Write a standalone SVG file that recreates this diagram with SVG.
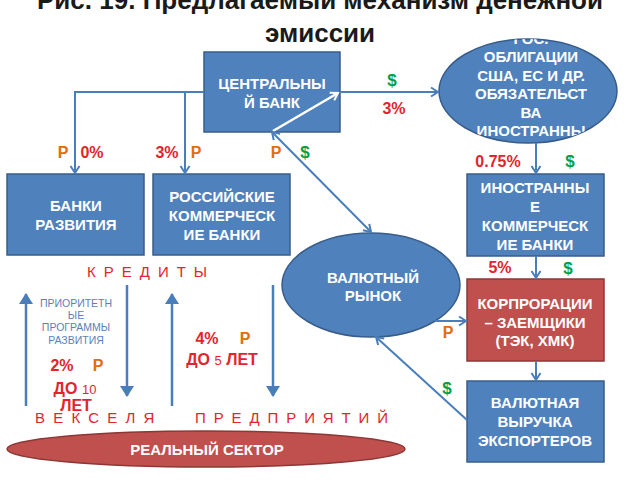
<svg xmlns="http://www.w3.org/2000/svg" width="640" height="480" viewBox="0 0 640 480">
<defs>
<marker id="ah" markerWidth="12" markerHeight="12" refX="9" refY="6" orient="auto-start-reverse" markerUnits="userSpaceOnUse">
<path d="M2,1.5 L9,6 L2,10.5" fill="none" stroke="#4a7ebb" stroke-width="2"/>
</marker>
<marker id="ahw" markerWidth="12" markerHeight="12" refX="9" refY="6" orient="auto" markerUnits="userSpaceOnUse">
<path d="M2,1.5 L9,6 L2,10.5" fill="none" stroke="#ffffff" stroke-width="2"/>
</marker>
<marker id="big" markerWidth="22" markerHeight="14" refX="10" refY="7" orient="auto" markerUnits="userSpaceOnUse">
<path d="M0,0 L11,7 L0,14 Z" fill="#4a7ebb"/>
</marker>
<clipPath id="bondclip">
<ellipse cx="528" cy="91" rx="89" ry="52"/>
</clipPath>
</defs>
<style>
text{font-family:"Liberation Sans",Arial,sans-serif;}
.box{fill:#4f81bd;stroke:#385d8a;stroke-width:1.5;}
.rbox{fill:#c0504d;stroke:#8c3836;stroke-width:1.5;}
.bt{fill:#ffffff;font-weight:bold;font-size:15px;text-anchor:middle;}
.ln{fill:none;stroke:#4a7ebb;stroke-width:2;}
.thick{fill:none;stroke:#4a7ebb;stroke-width:2.5;}
.red{fill:#e3242b;font-weight:bold;font-size:16px;text-anchor:middle;}
.or{fill:#e46c0a;font-weight:bold;font-size:16px;text-anchor:middle;}
.gr{fill:#00a04a;font-weight:bold;font-size:17px;text-anchor:middle;}
.sp{fill:#e3242b;font-size:15px;}
.pr{fill:#5a7fbd;font-size:10.5px;text-anchor:middle;}
</style>
<rect width="640" height="480" fill="#ffffff"/>

<g id="title">
<text x="320" y="9" font-size="26" font-weight="bold" text-anchor="middle" fill="#1a1a1a" textLength="566" lengthAdjust="spacingAndGlyphs">Рис. 19. Предлагаемый механизм денежной</text>
<text x="320" y="42" font-size="26" font-weight="bold" text-anchor="middle" fill="#1a1a1a">эмиссии</text>
</g>

<g id="central-bank">
<rect class="box" x="204" y="52" width="136" height="80"/>
<text class="bt" x="272" y="88.5">ЦЕНТРАЛЬНЫ</text>
<text class="bt" x="272" y="107.5">Й БАНК</text>
</g>

<g id="bonds">
<ellipse cx="528" cy="91" rx="89" ry="52" fill="#4f81bd" stroke="#385d8a" stroke-width="1.5"/>
<g clip-path="url(#bondclip)">
<text class="bt" x="531" y="43.5">ГОС.</text>
<text class="bt" x="531" y="61.5">ОБЛИГАЦИИ</text>
<text class="bt" x="531" y="80.5">США, ЕС И ДР.</text>
<text class="bt" x="531" y="98.5">ОБЯЗАТЕЛЬСТ</text>
<text class="bt" x="531" y="117.5">ВА</text>
<text class="bt" x="531" y="135.5">ИНОСТРАННЫ</text>
<text class="bt" x="531" y="153">Х ЭМИТЕНТОВ</text>
</g>
</g>

<g id="dev-banks">
<rect class="box" x="7" y="174" width="137" height="81"/>
<text class="bt" x="76" y="210.5">БАНКИ</text>
<text class="bt" x="76" y="229.5">РАЗВИТИЯ</text>
</g>

<g id="rus-banks">
<rect class="box" x="153" y="174" width="137" height="81"/>
<text class="bt" x="222" y="201.5">РОССИЙСКИЕ</text>
<text class="bt" x="222" y="220.5">КОММЕРЧЕСК</text>
<text class="bt" x="222" y="239.5">ИЕ БАНКИ</text>
</g>

<g id="foreign-banks">
<rect class="box" x="467" y="174" width="137" height="82"/>
<text class="bt" x="535" y="192.5">ИНОСТРАННЫ</text>
<text class="bt" x="535" y="211.5">Е</text>
<text class="bt" x="535" y="230.5">КОММЕРЧЕСК</text>
<text class="bt" x="535" y="249.5">ИЕ БАНКИ</text>
</g>

<g id="fx-market">
<ellipse cx="371" cy="285" rx="89" ry="52" fill="#4f81bd" stroke="#385d8a" stroke-width="1.5"/>
<text class="bt" x="373" y="282.5">ВАЛЮТНЫЙ</text>
<text class="bt" x="373" y="300.5">РЫНОК</text>
</g>

<g id="corporations">
<rect class="rbox" x="467" y="279" width="137" height="82"/>
<text class="bt" x="535" y="308.5">КОРПРОРАЦИИ</text>
<text class="bt" x="535" y="327.5">– ЗАЕМЩИКИ</text>
<text class="bt" x="535" y="345.5">(ТЭК, ХМК)</text>
</g>

<g id="exporters">
<rect class="box" x="467" y="381" width="137" height="81"/>
<text class="bt" x="535" y="407.5">ВАЛЮТНАЯ</text>
<text class="bt" x="535" y="426.5">ВЫРУЧКА</text>
<text class="bt" x="535" y="445.5">ЭКСПОРТЕРОВ</text>
</g>

<g id="real-sector">
<ellipse cx="206" cy="449" rx="199" ry="18" fill="#c0504d" stroke="#8c3836" stroke-width="1.5"/>
<text class="bt" x="207" y="454.5">РЕАЛЬНЫЙ СЕКТОР</text>
</g>

<g id="connectors">
<path class="ln" d="M204,92 H75 V173" marker-end="url(#ah)"/>
<path class="ln" d="M185,92 V173" marker-end="url(#ah)"/>
<path class="ln" d="M340,92 H438" marker-end="url(#ah)"/>
<path d="M273,131 L338,93" fill="none" stroke="#ffffff" stroke-width="2.5" marker-end="url(#ahw)"/>
<path class="ln" d="M272,132 L371,232" marker-start="url(#ah)" marker-end="url(#ah)"/>
<path class="ln" d="M536,143 V173" marker-end="url(#ah)"/>
<path class="ln" d="M536,256 V278" marker-end="url(#ah)"/>
<path class="ln" d="M536,361 V380" marker-end="url(#ah)"/>
<path class="ln" d="M435,321 H466" marker-end="url(#ah)"/>
<path class="ln" d="M467,420 L376,337" marker-end="url(#ah)"/>
<path class="thick" d="M26,406 V294" marker-end="url(#big)"/>
<path class="thick" d="M172,406 V294" marker-end="url(#big)"/>
<path class="thick" d="M127,285 V396" marker-end="url(#big)"/>
<path class="thick" d="M273,285 V396" marker-end="url(#big)"/>
</g>

<g id="labels">
<text class="or" x="63" y="158">Р</text>
<text class="red" x="92" y="158">0%</text>
<text class="red" x="167" y="158">3%</text>
<text class="or" x="196" y="158">Р</text>
<text class="or" x="276" y="158">Р</text>
<text class="gr" x="305" y="158">$</text>
<text class="gr" x="392" y="86">$</text>
<text class="red" x="394" y="114">3%</text>
<text class="red" x="498" y="167">0.75%</text>
<text class="gr" x="570" y="167">$</text>
<text class="red" x="500" y="273">5%</text>
<text class="gr" x="568" y="274">$</text>
<text class="or" x="448" y="338">Р</text>
<text class="gr" x="447" y="394">$</text>

<text class="sp" x="87" y="277" letter-spacing="8">КРЕДИТЫ</text>
<text class="sp" x="35" y="423" letter-spacing="8.2">ВЕКСЕЛЯ</text>
<text class="sp" x="195" y="423" letter-spacing="7.9">ПРЕДПРИЯТИЙ</text>

<text class="pr" x="76" y="307">ПРИОРИТЕТН</text>
<text class="pr" x="76" y="319">ЫЕ</text>
<text class="pr" x="76" y="331">ПРОГРАММЫ</text>
<text class="pr" x="76" y="344">РАЗВИТИЯ</text>

<text class="red" x="62" y="371">2%</text>
<text class="or" x="98" y="371">Р</text>
<text x="75" y="394" text-anchor="middle" fill="#e3242b" font-size="16" font-weight="bold">ДО <tspan font-size="13" font-weight="normal">10</tspan></text>
<text x="76" y="411" text-anchor="middle" fill="#e3242b" font-size="16" font-weight="bold">ЛЕТ</text>

<text class="red" x="207" y="344">4%</text>
<text class="or" x="245" y="344">Р</text>
<text x="222" y="365" text-anchor="middle" fill="#e3242b" font-size="16" font-weight="bold">ДО <tspan font-size="13" font-weight="normal">5</tspan> ЛЕТ</text>
</g>
</svg>
